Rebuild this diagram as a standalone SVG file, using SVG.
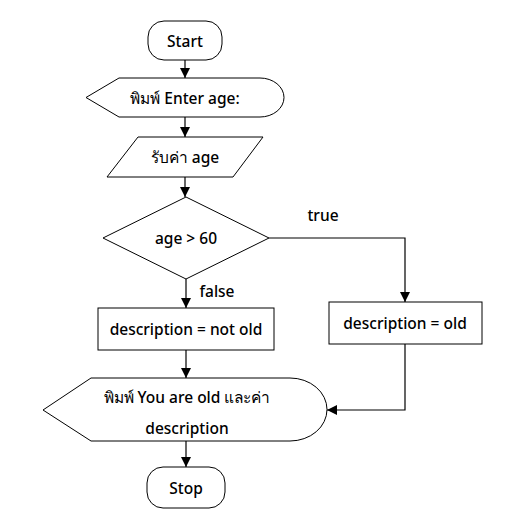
<svg xmlns="http://www.w3.org/2000/svg" width="525" height="519" viewBox="0 0 525 519">
<style>
.s{fill:#fff;stroke:#000;stroke-width:1}
.t{font-family:"Noto Sans","DejaVu Sans",sans-serif;font-size:15.5px;font-weight:500;fill:#000;text-anchor:middle;dominant-baseline:central}
.c{fill:none;stroke:#000;stroke-width:1.2}
</style>
<defs>
<marker id="a" viewBox="0 0 10 10" refX="10" refY="5" markerWidth="10" markerHeight="10" markerUnits="userSpaceOnUse" orient="auto">
<path d="M0,0 L10,5 L0,10 z" fill="#000"/>
</marker>
</defs>
<rect width="525" height="519" fill="#fff"/>
<g id="connectors">
<path class="c" d="M185,60 V78" marker-end="url(#a)"/>
<path class="c" d="M185,117 V137" marker-end="url(#a)"/>
<path class="c" d="M185,177 V197" marker-end="url(#a)"/>
<path class="c" d="M186,279 V308" marker-end="url(#a)"/>
<path class="c" d="M269,238 H405 V302" marker-end="url(#a)"/>
<path class="c" d="M186,350 V378" marker-end="url(#a)"/>
<path class="c" d="M405,344 V410 H327" marker-end="url(#a)"/>
<path class="c" d="M186,441 V467" marker-end="url(#a)"/>
<text class="t" x="323" y="215">true</text>
<text class="t" x="217" y="291">false</text>
</g>
<g id="start">
<rect class="s" x="148" y="21" width="74" height="39" rx="16"/>
<text class="t" x="185" y="41">Start</text>
</g>
<g id="print1">
<path class="s" d="M86,97.5 L119,78 H260 A24,19.5 0 0 1 260,117 H119 Z"/>
<text class="t" x="185" y="98">พิมพ์ Enter age:</text>
</g>
<g id="input">
<path class="s" d="M138,137 H263 L233,177 H107 Z"/>
<text class="t" x="185" y="157">รับค่า age</text>
</g>
<g id="decision">
<path class="s" d="M186,197 L269,238 L186,279 L103,238 Z"/>
<text class="t" x="186" y="238">age &gt; 60</text>
</g>
<g id="notold">
<rect class="s" x="98" y="308" width="176" height="42"/>
<text class="t" x="186" y="329">description = not old</text>
</g>
<g id="old">
<rect class="s" x="329" y="302" width="153" height="42"/>
<text class="t" x="405" y="323">description = old</text>
</g>
<g id="print2">
<path class="s" d="M43,410 L91,378 H290 A37,31.5 0 0 1 290,441 H91 Z"/>
<text class="t" x="187" y="397">พิมพ์ You are old และค่า</text>
<text class="t" x="187" y="428">description</text>
</g>
<g id="stop">
<rect class="s" x="147" y="467" width="78" height="41" rx="16"/>
<text class="t" x="186" y="488">Stop</text>
</g>
</svg>
